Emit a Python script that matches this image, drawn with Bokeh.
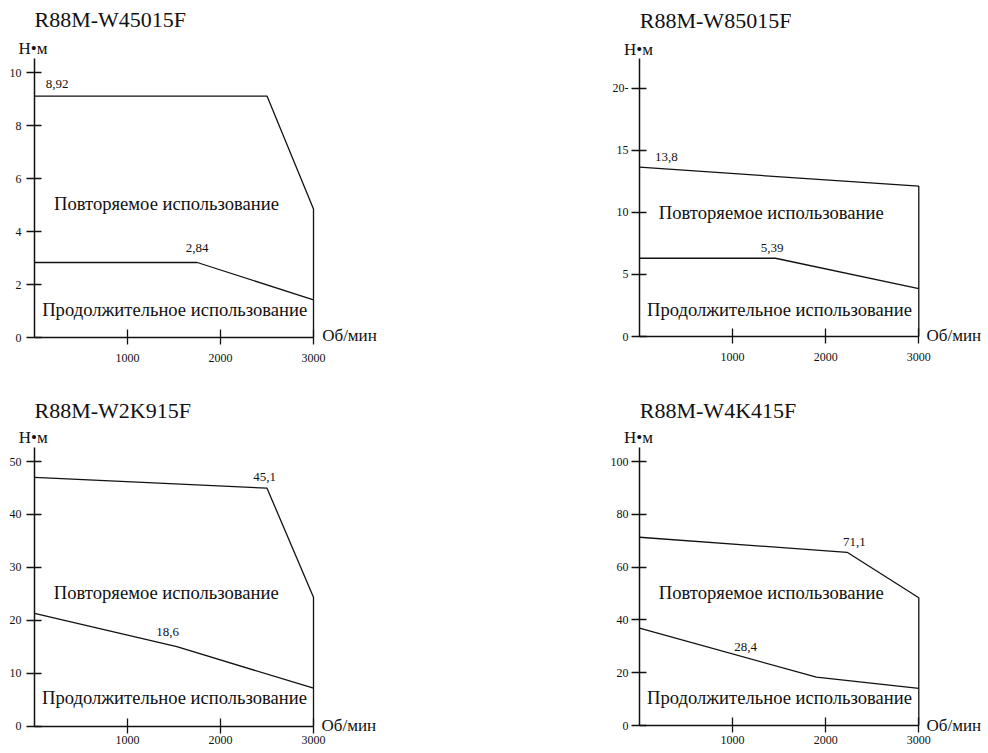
from bokeh.plotting import figure
from bokeh.layouts import column, row
from bokeh.models import FixedTicker, Range1d
from bokeh.core.properties import value
from bokeh.embed import file_html
from bokeh.resources import INLINE

FONT = "Liberation Serif"
INK = "#111111"

# ---------------- data ----------------
titles = ["R88M-W45015F", "R88M-W85015F", "R88M-W2K915F", "R88M-W4K415F"]
y_unit = "Н•м"
x_unit = "Об/мин"
rep_text = "Повторяемое использование"
cont_text = "Продолжительное использование"

x_ticks = [1000, 2000, 3000]
x_tick_labels = ["1000", "2000", "3000"]

# panel 1: R88M-W45015F
p1_y_ticks = [0, 2, 4, 6, 8, 10]
p1_y_labels = ["0", "2", "4", "6", "8", "10"]
p1_y_axis_top = 10.53
p1_rep_x = [0, 2500, 3000]
p1_rep_y = [9.11, 9.11, 4.85]
p1_cont_x = [0, 1750, 3000]
p1_cont_y = [2.83, 2.83, 1.42]
p1_values = ["8,92", "2,84"]

# panel 2: R88M-W85015F
p2_y_ticks = [0, 5, 10, 15, 20]
p2_y_labels = ["0", "5", "10", "15", "20-"]
p2_y_axis_top = 22.36
p2_rep_x = [0, 3000]
p2_rep_y = [13.63, 12.10]
p2_cont_x = [0, 1460, 3000]
p2_cont_y = [6.30, 6.30, 3.86]
p2_values = ["13,8", "5,39"]

# panel 3: R88M-W2K915F
p3_y_ticks = [0, 10, 20, 30, 40, 50]
p3_y_labels = ["0", "10", "20", "30", "40", "50"]
p3_y_axis_top = 52.7
p3_rep_x = [0, 2500, 3000]
p3_rep_y = [47.0, 44.95, 24.35]
p3_cont_x = [0, 1530, 3000]
p3_cont_y = [21.3, 15.0, 7.15]
p3_values = ["45,1", "18,6"]

# panel 4: R88M-W4K415F
p4_y_ticks = [0, 20, 40, 60, 80, 100]
p4_y_labels = ["0", "20", "40", "60", "80", "100"]
p4_y_axis_top = 105.4
p4_rep_x = [0, 2230, 3000]
p4_rep_y = [71.3, 65.6, 48.4]
p4_cont_x = [0, 1900, 3000]
p4_cont_y = [36.9, 18.3, 14.1]
p4_values = ["71,1", "28,4"]

panels = [
    (p1_y_ticks, p1_y_labels, p1_y_axis_top, p1_rep_x, p1_rep_y, p1_cont_x, p1_cont_y, p1_values),
    (p2_y_ticks, p2_y_labels, p2_y_axis_top, p2_rep_x, p2_rep_y, p2_cont_x, p2_cont_y, p2_values),
    (p3_y_ticks, p3_y_labels, p3_y_axis_top, p3_rep_x, p3_rep_y, p3_cont_x, p3_cont_y, p3_values),
    (p4_y_ticks, p4_y_labels, p4_y_axis_top, p4_rep_x, p4_rep_y, p4_cont_x, p4_cont_y, p4_values),
]

# ---------------- layout (pixels on the page) ----------------
# origin of the axes, pixels per data unit, figure box, text anchors (page pixels)
geom = [
    dict(x0=34, y0=337, ppx=279 / 3000, ppy=26.5, fx=(0, 579), fy=(0, 397),
         title=(34, 19), unit=(18, 48.3), xunit=(321.7, 335.3),
         vals=[(56.7, 83.5), (196.7, 247)], regions=[(166, 202.5), (174.2, 308.8)],
         ystand=5, xstand=9),
    dict(x0=639, y0=336, ppx=279.3 / 3000, ppy=12.42, fx=(579, 988), fy=(0, 397),
         title=(639.3, 20), unit=(623.5, 48.7), xunit=(926, 335),
         vals=[(665.8, 156.2), (771.7, 247.8)], regions=[(770.8, 211.5), (779, 308.8)],
         ystand=3, xstand=9),
    dict(x0=34, y0=725.5, ppx=279 / 3000, ppy=5.29, fx=(0, 579), fy=(397, 753),
         title=(34, 409.5), unit=(18.3, 436.7), xunit=(321, 724.7),
         vals=[(264, 476.2), (167, 631.3)], regions=[(165.8, 591.8), (174, 697.2)],
         ystand=5, xstand=3),
    dict(x0=639, y0=725, ppx=279.3 / 3000, ppy=2.64, fx=(579, 988), fy=(397, 753),
         title=(639.3, 409.5), unit=(623.5, 436.7), xunit=(926, 724.7),
         vals=[(853.8, 541.2), (745, 646.2)], regions=[(770.8, 591.8), (779, 697.2)],
         ystand=3, xstand=3),
]


def make_panel(i):
    y_ticks, y_labels, y_top, rep_x, rep_y, cont_x, cont_y, values = panels[i]
    G = geom[i]
    x0, y0, ppx, ppy = G["x0"], G["y0"], G["ppx"], G["ppy"]

    def dx(px):
        return (px - x0) / ppx

    def dy(py):
        return (y0 - py) / ppy

    fx0, fx1 = G["fx"]
    fy0, fy1 = G["fy"]
    p = figure(width=fx1 - fx0, height=fy1 - fy0, output_backend="svg",
               toolbar_location=None, title=None, tools="",
               x_range=Range1d(dx(fx0), dx(fx1)), y_range=Range1d(dy(fy1), dy(fy0)),
               min_border_left=0, min_border_right=0, min_border_top=0,
               min_border_bottom=0)
    p.outline_line_color = None
    p.xgrid.visible = False
    p.ygrid.visible = False
    p.background_fill_color = "white"
    p.border_fill_color = "white"

    # axes, crossing at the origin
    xa = p.xaxis[0]
    xa.fixed_location = 0
    xa.bounds = (0, x_ticks[-1])
    xa.ticker = FixedTicker(ticks=x_ticks)
    xa.major_label_overrides = {t: s for t, s in zip(x_ticks, x_tick_labels)}
    xa.major_tick_in = 8
    xa.major_tick_out = 7
    xa.minor_tick_line_color = None
    xa.axis_line_color = INK
    xa.axis_line_width = 1.3
    xa.major_tick_line_color = INK
    xa.major_tick_line_width = 1.3
    xa.major_label_text_font = FONT
    xa.major_label_text_font_size = "12px"
    xa.major_label_text_color = INK
    xa.major_label_standoff = G["xstand"]

    ya = p.yaxis[0]
    ya.fixed_location = 0
    ya.bounds = (0, y_top)
    ya.ticker = FixedTicker(ticks=y_ticks)
    ya.major_label_overrides = {t: s for t, s in zip(y_ticks, y_labels)}
    ya.major_tick_in = 7
    ya.major_tick_out = 8
    ya.minor_tick_line_color = None
    ya.axis_line_color = INK
    ya.axis_line_width = 1.5
    ya.major_tick_line_color = INK
    ya.major_tick_line_width = 1.3
    ya.major_label_text_font = FONT
    ya.major_label_text_font_size = "12px"
    ya.major_label_text_color = INK
    ya.major_label_standoff = G["ystand"]

    # curves (repeated-use limit closes down to the axis at its last speed)
    p.line(rep_x + [rep_x[-1]], rep_y + [0], line_color=INK, line_width=1.3)
    p.line(cont_x, cont_y, line_color=INK, line_width=1.3)

    def put(anchor_list, texts, size, align):
        p.text(x=[dx(a[0]) for a in anchor_list], y=[dy(a[1]) for a in anchor_list],
               text=texts, text_align=align, text_baseline="middle",
               text_font=value(FONT), text_font_size=size, text_color=INK)

    put([G["title"]], [titles[i]], "22px", "left")
    put([G["unit"]], [y_unit], "17px", "left")
    put([G["xunit"]], [x_unit], "17px", "left")
    put(G["vals"], values, "13px", "center")
    put(G["regions"], [rep_text, cont_text], "18.6px", "center")
    return p


figs = [make_panel(i) for i in range(4)]
page = column(row(figs[0], figs[1]), row(figs[2], figs[3]))

with open("out.html", "w") as f:
    f.write(file_html(page, INLINE))
